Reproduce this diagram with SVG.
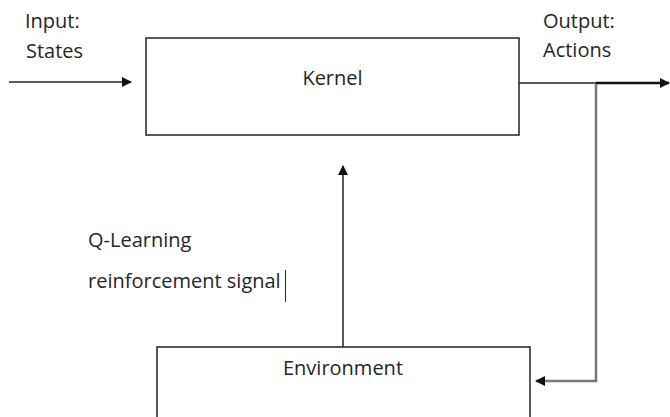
<svg xmlns="http://www.w3.org/2000/svg" width="670" height="417" viewBox="0 0 670 417">
<defs>
<style>
.t{font-family:"Open Sans","Liberation Sans",sans-serif;font-size:20px;fill:#262626}
.box{fill:#fff;stroke:#222;stroke-width:1.5}
.ln{fill:none;stroke:#222;stroke-width:1.5}
.gl{fill:none;stroke:#777;stroke-width:2.5}
</style>
<marker id="ah" markerWidth="10" markerHeight="10" refX="9" refY="5" orient="auto" markerUnits="userSpaceOnUse">
<path d="M0,0 L10,5 L0,10 Z" fill="#111"/>
</marker>
</defs>
<g id="kernel">
<rect class="box" x="146" y="38" width="373" height="97"/>
<text class="t" x="332.5" y="85" text-anchor="middle">Kernel</text>
</g>
<g id="environment">
<rect class="box" x="157" y="347" width="373" height="90"/>
<text class="t" x="343" y="375" text-anchor="middle">Environment</text>
</g>
<g id="labels">
<text class="t" x="25" y="28">Input:</text>
<text class="t" x="26" y="58">States</text>
<text class="t" x="543" y="28">Output:</text>
<text class="t" x="543" y="57">Actions</text>
<text class="t" x="88" y="247">Q-Learning</text>
<text class="t" x="88" y="288">reinforcement signal</text>
<line x1="285.5" y1="270" x2="285.5" y2="302" stroke="#222" stroke-width="1"/>
</g>
<g id="connectors">
<line class="ln" x1="9" y1="82" x2="131" y2="82" marker-end="url(#ah)"/>
<line class="ln" x1="519" y1="83" x2="596" y2="83"/>
<line x1="596" y1="83" x2="669" y2="83" stroke="#111" stroke-width="2.5" marker-end="url(#ah)"/>
<polyline class="gl" points="596,84 596,381 536,381" marker-end="url(#ah)"/>
<line class="ln" x1="343" y1="347" x2="343" y2="166" marker-end="url(#ah)"/>
</g>
</svg>
